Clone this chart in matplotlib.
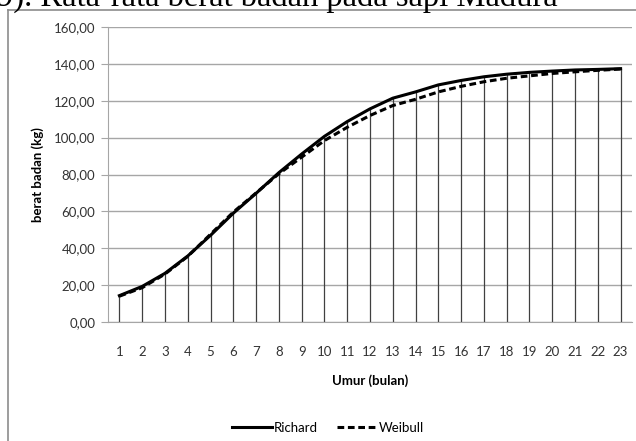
import matplotlib.pyplot as plt
from matplotlib.lines import Line2D
import numpy as np

umur = list(range(1, 24))
richard = [14.3, 19.3, 26.4, 35.8, 47.0, 59.0, 69.8, 81.0, 91.1, 100.7, 108.7,
           115.6, 121.4, 124.8, 128.6, 131.0, 133.0, 134.4, 135.4, 136.1,
           136.7, 137.0, 137.4]
weibull = [14.0, 18.6, 26.0, 35.6, 47.6, 59.6, 70.0, 80.4, 89.4, 98.4, 105.6,
           112.0, 117.4, 120.8, 124.8, 127.8, 130.3, 132.2, 133.5, 134.8,
           135.7, 136.5, 137.2]
yticks = np.arange(0, 161, 20)

W, H = 636, 441
fig = plt.figure(figsize=(W / 100, H / 100), dpi=100)
ax = fig.add_axes([108 / W, 1 - 322 / H, (632 - 108) / W, (322 - 27) / H])

fnt = 'Lato'
fs = 9.5
ax.set_axisbelow(True)
ax.grid(axis='y', color='#a6a6a6', lw=1.0)
ax.vlines(umur, 0, np.maximum(richard, weibull), color='#404040', lw=0.9)
ax.plot(umur, richard, color='black', lw=2.2, label='Richard')
ax.plot(umur, weibull, color='black', lw=2.2, ls=(0, (2.2, 1.2)), label='Weibull')

ax.set_xlim(0.5, 23.5)
ax.set_ylim(0, 160)
ax.set_xticks(umur)
ax.set_xticklabels([str(u) for u in umur], fontsize=fs, family=fnt, color='#333333')
ax.set_yticks(yticks)
ax.set_yticklabels([f'{v:.2f}'.replace('.', ',') for v in yticks], fontsize=fs,
                   family=fnt, color='#333333')
ax.tick_params(axis='x', length=0, pad=17)
ax.tick_params(axis='y', length=5, color='#a6a6a6', pad=4)
for s in ['top', 'right']:
    ax.spines[s].set_visible(False)
for s in ['left', 'bottom']:
    ax.spines[s].set_color('#a6a6a6')

ax.set_ylabel('berat badan (kg)', fontsize=fs, family=fnt, fontweight='bold', labelpad=7)
ax.set_xlabel('Umur (bulan)', fontsize=fs, family=fnt, fontweight='bold', labelpad=12)

fig.legend(loc='center', bbox_to_anchor=(328 / W, 1 - 428 / H), ncol=2, frameon=False,
           prop={'family': fnt, 'size': fs}, handlelength=3.0, handletextpad=0.2,
           columnspacing=1.4)

# chart frame
fig.add_artist(Line2D([8 / W, 1], [1 - 10 / H, 1 - 10 / H], color='#8c8c8c', lw=1.2))
fig.add_artist(Line2D([8 / W, 8 / W], [0, 1 - 10 / H], color='#8c8c8c', lw=1.2))

fig.text(-3 / W, 1 - 6 / H, '9). Rata-rata berat badan pada sapi Madura',
         family='Liberation Serif', fontsize=23.5, va='baseline', ha='left')

fig.savefig('out.png', dpi=100)
